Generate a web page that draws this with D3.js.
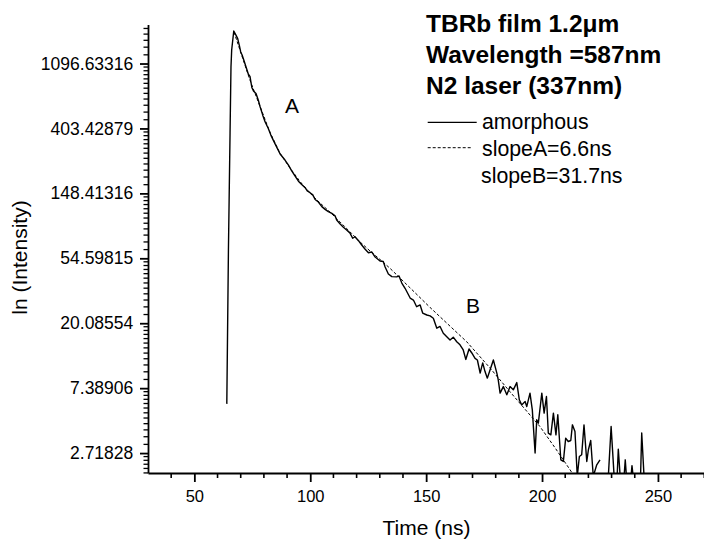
<!DOCTYPE html>
<html>
<head>
<meta charset="utf-8">
<script src="https://cdn.jsdelivr.net/npm/d3@7"></script>
<style>
  body { margin: 0; background: #fff; }
  text { font-family: "Liberation Sans", Arial, sans-serif; fill: #000; }
</style>
</head>
<body>
<div id="my_dataviz"></div>
<script>
// measured decay (amorphous film), time in ns, intensity in counts
var timeNs = [64.0, 64.7, 65.0, 65.4, 65.8, 66.1, 67.0, 68.0, 68.7, 69.4, 70.0, 70.6, 71.4, 72.3, 73.3, 74.0,
  74.8, 75.5, 76.6, 77.6, 78.3, 79.5, 80.5, 81.9, 83.0, 84.4, 85.8, 87.0, 89.1, 90.6, 92.0, 93.4, 94.9, 96.3,
  97.8, 98.7, 99.9, 101.1, 102.1, 103.5, 105.0, 106.4, 107.8, 109.3, 110.7, 111.4, 112.9, 114.3, 115.7, 117.2,
  118.3, 119.3, 120.8, 122.2, 123.6, 125.1, 126.5, 128.0, 130.1, 131.5, 132.3, 133.7, 135.2, 137.3, 138.3,
  139.5, 140.9, 142.2, 143.1, 144.5, 145.9, 147.4, 148.5, 150.3, 151.7, 153.1, 154.6, 156.0, 157.4, 158.9,
  160.3, 161.7, 163.2, 164.6, 166.0, 167.1, 168.5, 169.7, 171.1, 172.1, 173.3, 174.4, 175.4, 176.4, 177.6,
  179.0, 180.5, 181.1, 181.9, 183.3, 184.8, 186.2, 187.6, 189.1, 190.2, 191.2, 192.7, 193.4, 194.8, 195.8,
  197.0, 197.7, 198.4, 199.9, 200.9, 201.9, 202.7, 203.8, 204.9, 206.0, 206.8, 208.1, 209.2, 210.2, 211.3,
  212.4, 213.1, 214.2, 215.2, 216.1, 217.1, 218.1, 219.3, 220.0, 221.0, 222.1, 223.6, 225.0, 226.5, 228.6,
  229.8, 231.1, 232.4, 232.9, 233.7, 235.4, 235.9, 236.4, 238.4, 238.8, 239.3, 242.5, 243.0, 244.0];
var intensity = [5.8, 62, 134, 376, 1040, 1350, 1810, 1690, 1610, 1450, 1310, 1250, 1150, 1040, 930, 900,
  758, 719, 691, 623, 568, 495, 447, 403, 364, 328, 297, 272, 248, 229, 210, 194, 179, 170,
  162, 154, 150, 145, 135, 130, 121, 116, 112, 109, 105, 98.4, 92.5, 88.0, 84.3, 80.2,
  74.3, 76.1, 71.6, 67.0, 63.0, 59.5, 60.2, 55.7, 52.4, 52.0, 47.8, 42.9, 41.2, 41.0, 41.6,
  37.3, 34.4, 31.5, 29.6, 28.7, 25.9, 26.6, 23.5, 22.8, 22.5, 21.7, 18.6, 19.1, 17.2, 16.3,
  15.5, 16.2, 15.1, 14.4, 13.3, 11.5, 13.5, 12.7, 11.7, 11.4, 9.31, 10.9, 9.54, 8.62, 9.80,
  11.4, 9.31, 8.39, 6.84, 7.57, 6.67, 7.57, 7.20, 8.05, 6.17, 5.71, 6.01, 5.56, 6.84, 5.29,
  2.72, 4.54, 4.31, 6.84, 5.03, 6.50, 3.70, 3.60, 5.03, 3.60, 4.90, 2.45, 2.39, 3.42, 3.25,
  3.30, 4.20, 3.79, 1.9, 2.58, 2.65, 4.20, 2.39, 2.86, 3.30, 1.9, 2.27, 2.45, null, 1.9,
  4.09, 1.9, 1.9, 2.89, 1.9, 1.9, 2.45, 1.9, 1.9, 2.24, 1.9, 1.9, 3.70, 1.9];

// fitted curve (dashed)
var fitTimeNs = [67.1, 69.7, 74.0, 78.3, 82.6, 86.9, 91.3, 95.6, 99.9, 104.2, 108.6, 112.9, 117.2, 121.5,
  125.8, 130.1, 134.4, 143.1, 151.7, 160.3, 167.5, 177.5, 186.2, 199.1, 205.6, 212.1, 212.9];
var fitIntensity = [1780, 1346, 848, 568, 381, 276, 219, 178, 149, 128, 111, 95.4, 81.9, 70.2,
  61.1, 53.6, 46.8, 34.6, 25.6, 19.2, 15.1, 10.1, 6.98, 4.09, 2.95, 2.10, 2.01];

var xMajor = [50, 100, 150, 200, 250];
var xMinor = [40, 60, 70, 80, 90, 110, 120, 130, 140, 160, 170, 180, 190, 210, 220, 230, 240, 260, 270];
var yMajor = [Math.E, Math.exp(2), Math.exp(3), Math.exp(4), Math.exp(5), Math.exp(6), Math.exp(7)];

var titleLines = ["TBRb film 1.2\u03bcm", "Wavelength =587nm", "N2 laser (337nm)"];
var legendLabels = ["amorphous", "slopeA=6.6ns", "slopeB=31.7ns"];

var width = 704, height = 542;

var svg = d3.select("#my_dataviz")
  .append("svg")
  .attr("width", width)
  .attr("height", height);

var x = d3.scaleLinear().domain([30, 270]).range([148, 704.3]);
var y = d3.scaleLog().base(Math.E).domain([2, 2000]).range([473, 24.5]);

// minor ticks: linear steps between e^n and e^(n+1)
var yMinor = [];
for (var n = 0; n < 8; n++) {
  var lo = Math.exp(n), hi = Math.exp(n + 1), step = (hi - lo) / 12;
  for (var k = 1; k < 12; k++) {
    var v = lo + k * step;
    if (v >= 2 && v <= 2000) yMinor.push(v);
  }
}

svg.append("clipPath").attr("id", "plotclip")
  .append("rect").attr("x", 148).attr("y", 24.5).attr("width", 557).attr("height", 448.5);

// minor tick marks
svg.append("g").selectAll("line")
  .data(xMinor)
  .enter().append("line")
  .attr("x1", function (d) { return x(d); })
  .attr("x2", function (d) { return x(d); })
  .attr("y1", 473).attr("y2", 478)
  .attr("stroke", "#000").attr("stroke-width", 1.6);
svg.append("g").selectAll("line")
  .data(yMinor)
  .enter().append("line")
  .attr("x1", 143.5).attr("x2", 148)
  .attr("y1", function (d) { return y(d); })
  .attr("y2", function (d) { return y(d); })
  .attr("stroke", "#000").attr("stroke-width", 1.3);

// X axis
var gx = svg.append("g")
  .attr("transform", "translate(0,473)")
  .call(d3.axisBottom(x).tickValues(xMajor).tickSize(9).tickSizeOuter(0).tickFormat(d3.format("d")));
gx.selectAll("text").attr("y", 28.5).attr("dy", 0).style("font-size", "16.5px");

// Y axis
var gy = svg.append("g")
  .attr("transform", "translate(148,0)")
  .call(d3.axisLeft(y).tickValues(yMajor).tickSize(8).tickSizeOuter(0)
    .tickFormat(function (d) { return d.toFixed(5); }));
gy.selectAll("text").attr("x", -14.7).style("font-size", "17.5px");

svg.selectAll(".domain, .tick line").attr("stroke", "#000").attr("stroke-width", 1.8);

// axis titles
svg.append("text")
  .attr("x", 426.5).attr("y", 535)
  .style("text-anchor", "middle").style("font-size", "21px")
  .text("Time (ns)");
svg.append("text")
  .attr("transform", "translate(27,257.5) rotate(-90)")
  .style("text-anchor", "middle").style("font-size", "21px")
  .text("ln (Intensity)");

// curves
var plot = svg.append("g").attr("clip-path", "url(#plotclip)");

var line = d3.line()
  .defined(function (d) { return d[1] !== null; })
  .x(function (d) { return x(d[0]); })
  .y(function (d) { return y(d[1]); });

plot.append("path")
  .datum(d3.zip(fitTimeNs, fitIntensity))
  .attr("fill", "none").attr("stroke", "#000").attr("stroke-width", 1)
  .attr("stroke-dasharray", "3,2")
  .attr("d", line);

plot.append("path")
  .datum(d3.zip(timeNs, intensity))
  .attr("fill", "none").attr("stroke", "#000").attr("stroke-width", 1.4)
  .attr("stroke-linejoin", "round")
  .attr("d", line);

// region labels
svg.append("text").attr("x", 292).attr("y", 113.3)
  .style("text-anchor", "middle").style("font-size", "21px").text("A");
svg.append("text").attr("x", 473).attr("y", 313.3)
  .style("text-anchor", "middle").style("font-size", "21px").text("B");

// title block
svg.selectAll(".title")
  .data(titleLines)
  .enter().append("text")
  .attr("class", "title")
  .attr("x", 426)
  .attr("y", function (d, i) { return 32.3 + i * 31; })
  .style("font-size", "24.5px").style("font-weight", "bold")
  .text(function (d) { return d; });

// legend
svg.append("line").attr("x1", 427.7).attr("x2", 476.7).attr("y1", 122.3).attr("y2", 122.3)
  .attr("stroke", "#000").attr("stroke-width", 1.3);
svg.append("line").attr("x1", 427.7).attr("x2", 472).attr("y1", 147.7).attr("y2", 147.7)
  .attr("stroke", "#000").attr("stroke-width", 1).attr("stroke-dasharray", "3,2");
svg.selectAll(".legend")
  .data(legendLabels)
  .enter().append("text")
  .attr("class", "legend")
  .attr("x", function (d, i) { return i < 2 ? 482 : 481; })
  .attr("y", function (d, i) { return 129.3 + i * 26.7; })
  .style("font-size", "21.3px")
  .text(function (d) { return d; });
</script>
</body>
</html>
